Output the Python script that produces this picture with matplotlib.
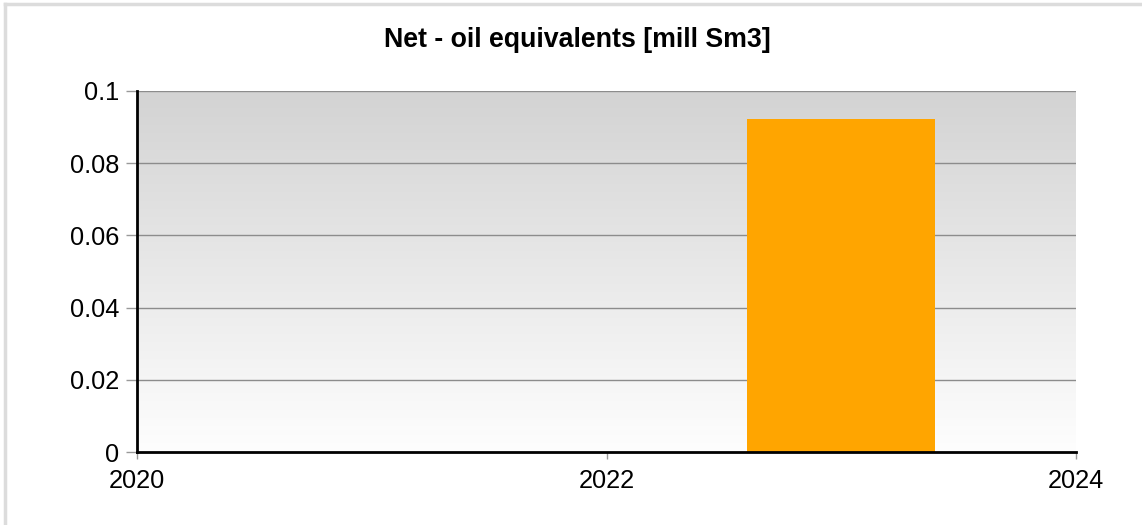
import matplotlib
matplotlib.use("Agg")
import matplotlib.pyplot as plt
import numpy as np
from matplotlib.lines import Line2D
from matplotlib.colors import LinearSegmentedColormap

years = [2023]
values = [0.0922]
x_ticks = [2020, 2022, 2024]
y_ticks = [0, 0.02, 0.04, 0.06, 0.08, 0.1]
y_labels = ["0", "0.02", "0.04", "0.06", "0.08", "0.1"]
title = "Net - oil equivalents [mill Sm3]"

plt.rcParams['font.family'] = ['Liberation Sans', 'DejaVu Sans']

W, H = 1142, 525
fig = plt.figure(figsize=(W/100, H/100), dpi=100)
fig.patch.set_facecolor('white')

# outer border (top and left)
fig.add_artist(Line2D([5/W, 5/W], [0, 1 - 4/H], transform=fig.transFigure, color='#dcdcdc', lw=2.5))
fig.add_artist(Line2D([5/W, 1], [1 - 4/H, 1 - 4/H], transform=fig.transFigure, color='#dcdcdc', lw=2.5))

left, right, top, bottom = 137, 1076, 91, 452
ax = fig.add_axes([left/W, 1 - bottom/H, (right-left)/W, (bottom-top)/H])

# gradient background
grad = np.linspace(0, 1, 256).reshape(-1, 1)
cmap = LinearSegmentedColormap.from_list('g', ['#fefefe', '#d3d3d3'])
ax.imshow(grad, extent=[0, 1, 0, 1], transform=ax.transAxes, origin='lower',
          cmap=cmap, aspect='auto', zorder=0)

ax.set_xlim(2020, 2024)
ax.set_ylim(0, 0.1)

for yv in y_ticks[1:]:
    ax.axhline(yv, color='#8c8c8c', lw=1.0, zorder=1)

ax.bar(years, values, width=0.8, color='#FFA500', zorder=2)

for s in ['top', 'right']:
    ax.spines[s].set_visible(False)
for s in ['left', 'bottom']:
    ax.spines[s].set_color('black')
    ax.spines[s].set_linewidth(2)
    ax.spines[s].set_zorder(3)

ax.set_yticks(y_ticks)
ax.set_yticklabels(y_labels)
ax.set_xticks(x_ticks)
ax.set_xticklabels([str(t) for t in x_ticks])
ax.tick_params(axis='y', length=8, width=1, color='#999999', labelsize=18.3, pad=5)
ax.tick_params(axis='x', length=5, width=1, color='#999999', labelsize=18.3, pad=7)

fig.text(577.5/W, 1 - 40/H, title, ha='center', va='center', fontsize=19.3, fontweight='bold')

fig.savefig('out.png', dpi=100)
